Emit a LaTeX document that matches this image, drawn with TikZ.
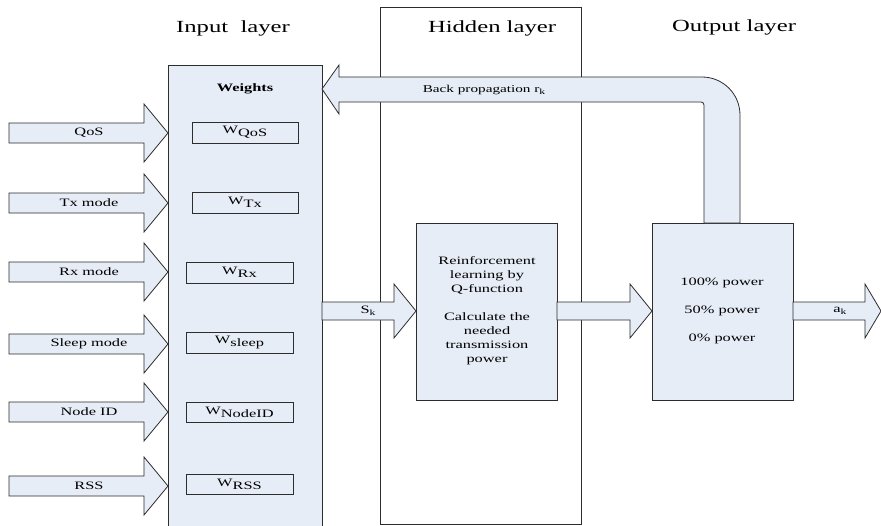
\documentclass[tikz,border=0pt]{standalone}
\usepackage{fontspec}
\setmainfont[FakeStretch=1.45]{Liberation Serif}
\definecolor{blockfill}{RGB}{231,237,247}
\definecolor{edge}{RGB}{45,45,45}
% right-pointing block arrow: start x, tip x, centre y, shaft half-height, head half-height, head length
\newcommand\rightblock[6]{%
  \filldraw[blockarrow] (#1,#3-#4) -- (#2-#6,#3-#4) -- (#2-#6,#3-#5) -- (#2,#3)
    -- (#2-#6,#3+#5) -- (#2-#6,#3+#4) -- (#1,#3+#4) -- cycle;}
\newcommand\lowsub[1]{\raisebox{-2.2pt}{\fontsize{8}{8}\selectfont #1}}
\newcommand\wsub[1]{W\raisebox{-3pt}{#1}}
\begin{document}
\begin{tikzpicture}[x=1pt,y=-1pt,
  box/.style={draw=edge,line width=0.8pt,fill=blockfill},
  wbox/.style={draw=edge,line width=0.8pt,fill=blockfill},
  blockarrow/.style={draw=edge,line width=0.8pt,fill=blockfill},
  title/.style={font=\fontsize{17}{20}\selectfont},
  lbl/.style={font=\fontsize{11.3}{14}\selectfont,inner sep=0pt},
  small/.style={font=\fontsize{10.5}{13}\selectfont,inner sep=0pt}]
\clip (0,0) rectangle (881,525);
\fill[white] (0,0) rectangle (881,525);

% layer titles
\node[title] (tin)  at (233,28) {Input\ \ layer};
\node[title] (thid) at (492,28) {Hidden layer};
\node[title] (tout) at (734,27) {Output layer};

% hidden layer frame
\draw[edge,line width=0.8pt] (380,7) rectangle (581,524);

% input layer weight column
\filldraw[box] (168,65) rectangle (322,535);
\coordinate (wtop) at (322,89);
\node[lbl,font=\bfseries\fontsize{11.3}{14}\selectfont] (wlabel) at (245,89) {Weights};

% input arrows
\foreach \yc/\name/\txt in {133/qos/QoS,203/tx/Tx mode,272/rx/Rx mode,344/sleep/Sleep mode,412/nid/Node ID,486/rss/RSS}{
  \rightblock{9}{168}{\yc}{10}{29}{24}
  \node[lbl] (in-\name) at (89,\yc) {\txt};
}

% weight boxes
\draw[wbox] (192,122) rectangle (298,143) node[midway,lbl] (wqos) {\wsub{QoS}};
\draw[wbox] (192,192) rectangle (298,213) node[midway,lbl] (wtx) {\wsub{Tx}};
\draw[wbox] (186,262) rectangle (293,283) node[midway,lbl] (wrx) {\wsub{Rx}};
\draw[wbox] (186,332) rectangle (293,353) node[midway,lbl] (wsleep) {\wsub{sleep}};
\draw[wbox] (186,402) rectangle (293,422) node[midway,lbl] (wnid) {\wsub{NodeID}};
\draw[wbox] (186,474) rectangle (293,494) node[midway,lbl] (wrss) {\wsub{RSS}};

% hidden layer and output layer blocks
\filldraw[box] (416,223) rectangle (557,400);
\node[lbl,align=center] (rl) at (487,311)
  {Reinforcement\\learning by\\Q-function\\[14pt]Calculate the\\needed\\transmission\\power};
\filldraw[box] (652,223) rectangle (793,400);
\node[lbl] (p100) at (722,283) {100\% power};
\node[lbl] (p50)  at (722,311) {50\% power};
\node[lbl] (p0)   at (722,339) {0\% power};

% forward arrows
\rightblock{322}{416}{311}{9}{27}{22}
\node[lbl] (sk) at (368,311) {S\lowsub{k}};
\rightblock{557}{652}{311}{9}{27}{22}
\rightblock{793}{881}{311}{9}{27}{16}
\node[lbl] (ak) at (840,311) {a\lowsub{k}};

% back propagation feedback arrow
\filldraw[blockarrow] (322,89) -- (339,65) -- (339,77) -- (702,77)
  arc[start angle=90,end angle=0,radius=38pt] -- (740,223) -- (704,223) -- (704,105)
  arc[start angle=0,end angle=90,radius=3pt] -- (339,102) -- (339,114) -- cycle;
\node[small] (bp) at (484,90) {Back propagation r\lowsub{k}};
\end{tikzpicture}
\end{document}
